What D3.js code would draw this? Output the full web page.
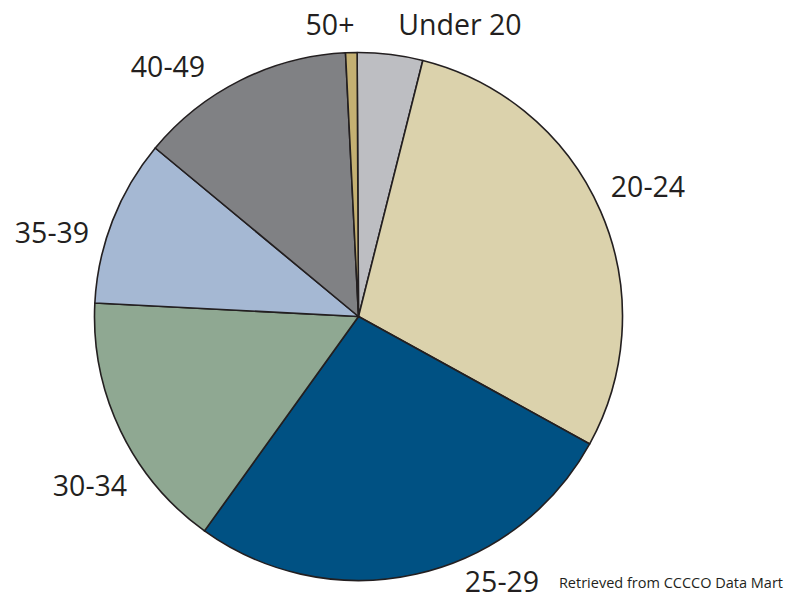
<!DOCTYPE html>
<html>
<head>
<meta charset="utf-8">
<script src="https://cdn.jsdelivr.net/npm/d3@7"></script>
<style>
  html, body { margin: 0; padding: 0; background: #ffffff; }
  svg { display: block; }
</style>
</head>
<body>
<script>
// Age groups and their share of the total (percent)
const categories = ["Under 20", "20-24", "25-29", "30-34", "35-39", "40-49", "50+"];
const shares = [4.0, 29.1, 26.9, 15.9, 10.2, 13.2, 0.7];
const colors = ["#bdbec2", "#dbd2ac", "#005183", "#8fa892", "#a5b8d3", "#808184", "#c4b072"];

const width = 787, height = 599;
const cx = 358.5, cy = 316.5, radius = 264;

// Hand-placed label anchors (text centre x, baseline y) around the pie
const labelLayout = {
  "Under 20": [460, 35],
  "20-24": [648, 197],
  "25-29": [502, 592],
  "30-34": [90, 496],
  "35-39": [52, 243],
  "40-49": [168, 77],
  "50+": [330, 35]
};

const svg = d3.select("body").append("svg")
  .attr("width", width)
  .attr("height", height);

const data = categories.map((c, i) => ({ category: c, value: shares[i], color: colors[i] }));

const startOffset = -0.3 * Math.PI / 180;
const pie = d3.pie()
  .value(d => d.value)
  .sort(null)
  .startAngle(startOffset)
  .endAngle(startOffset + 2 * Math.PI);

const arc = d3.arc().innerRadius(0).outerRadius(radius);

const g = svg.append("g").attr("transform", `translate(${cx},${cy})`);

g.selectAll("path.slice")
  .data(pie(data))
  .join("path")
  .attr("class", "slice")
  .attr("d", arc)
  .attr("fill", d => d.data.color)
  .attr("stroke", "#231f20")
  .attr("stroke-width", 1.6)
  .attr("stroke-linejoin", "round");

svg.selectAll("text.label")
  .data(data)
  .join("text")
  .attr("class", "label")
  .attr("x", d => labelLayout[d.category][0])
  .attr("y", d => labelLayout[d.category][1])
  .attr("text-anchor", "middle")
  .attr("font-family", "'Open Sans', 'Noto Sans', sans-serif")
  .attr("font-size", 28.5)
  .attr("fill", "#231f20")
  .text(d => d.category);

svg.append("text")
  .attr("x", 783)
  .attr("y", 588)
  .attr("text-anchor", "end")
  .attr("font-family", "'Open Sans', 'Noto Sans', sans-serif")
  .attr("font-size", 14.5)
  .attr("fill", "#231f20")
  .text("Retrieved from CCCCO Data Mart");
</script>
</body>
</html>
